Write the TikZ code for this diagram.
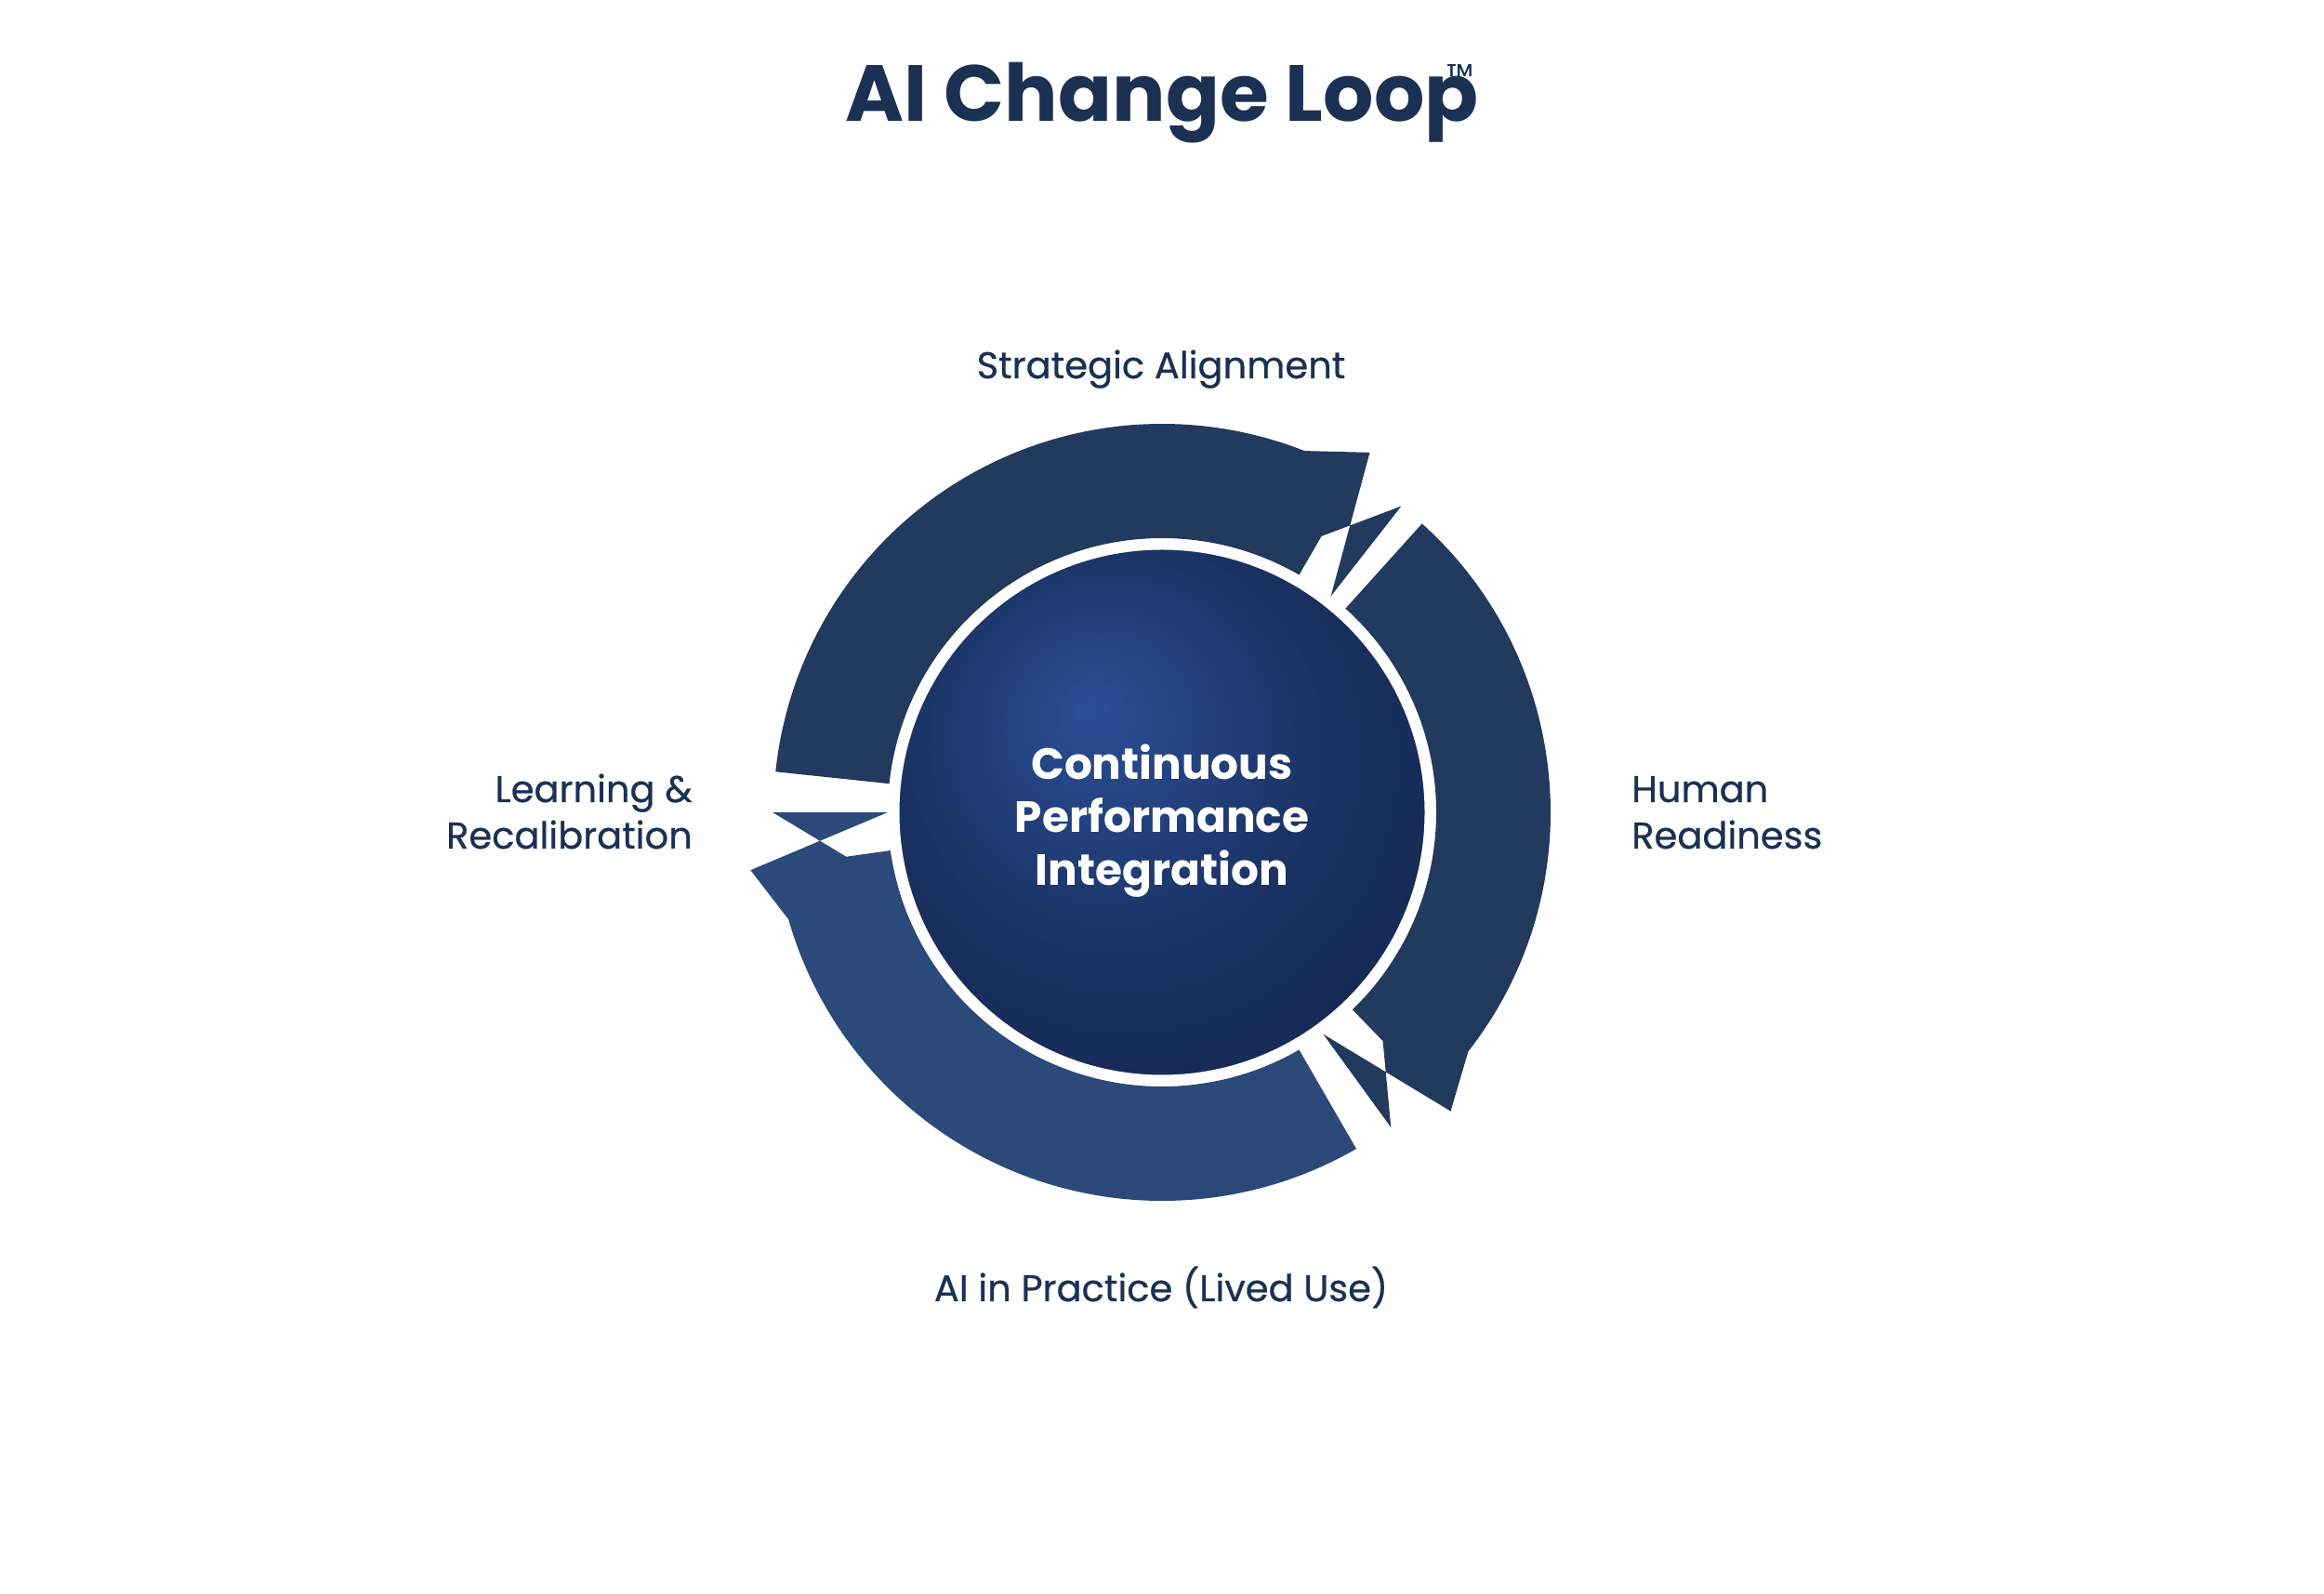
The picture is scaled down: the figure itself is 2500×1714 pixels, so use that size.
\documentclass[tikz,border=0pt]{standalone}
\usepackage{fontspec}
\setmainfont{Poppins}
\newfontfamily\popmed{Poppins}[FakeBold=0.6]
\usetikzlibrary{calc}
\definecolor{segdark}{HTML}{213A5E}
\definecolor{seglight}{HTML}{2B4A79}
\definecolor{navytext}{HTML}{1B3153}
\definecolor{disclight}{HTML}{2B4F96}
\definecolor{discmid}{HTML}{1A3263}
\definecolor{discdark}{HTML}{0E1A38}
\pgfdeclareradialshading{discshade}{\pgfpoint{-7bp}{10bp}}{color(0bp)=(disclight); color(20bp)=(discmid); color(52bp)=(discdark)}
\tikzset{
  label/.style={text=navytext, inner sep=0pt, font=\popmed\fontsize{40}{48}\selectfont},
  centertext/.style={text=white, inner sep=0pt, anchor=base, font=\fontsize{47}{54}\selectfont\bfseries},
}
\begin{document}
\begin{tikzpicture}[x=1pt,y=1pt]
\useasboundingbox (0,0) rectangle (2500,1714);
\fill[white] (0,0) rectangle (2500,1714);
\coordinate (c) at (1250,840);
% ring segments
\begin{scope}[shift={(c)}]
\fill[segdark] (174:418) arc[start angle=174,end angle=68.5,radius=418]
  -- (60:447) -- (52:295) -- (52:418) -- (60:343) -- (60:295)
  arc[start angle=60,end angle=174,radius=295] -- cycle;
\fill[segdark] (48:418) arc[start angle=48,end angle=-38,radius=418]
  -- (-46:447) -- (-54:295) -- (-54:419) -- (-46:342) -- (-46:295)
  arc[start angle=-46,end angle=48,radius=295] -- cycle;
\fill[seglight] (-60:418) arc[start angle=-60,end angle=-164,radius=418]
  -- (-172:447) -- (-180:295) -- (-180:419) -- (-172:343) -- (-172:295)
  arc[start angle=-172,end angle=-60,radius=295] -- cycle;
\end{scope}
% centre disc
\node[circle, minimum size=568pt, inner sep=0pt, shading=discshade, draw=white, line width=3pt] (disc) at (c) {};
\node[centertext] (t1) at (1250,875) {Continuous};
\node[centertext] (t2) at (1250,818) {Performance};
\node[centertext] (t3) at (1250,761) {Integration};
% labels
\node[label, anchor=base] (sa) at (1249,1307) {Strategic Alignment};
\node[label, anchor=base east] (lr1) at (745,851) {Learning \&};
\node[label, anchor=base east] (lr2) at (745,801) {Recalibration};
\node[label, anchor=base west] (hr1) at (1755,851) {Human};
\node[label, anchor=base west] (hr2) at (1755,801) {Readiness};
\node[label, anchor=base] (ap) at (1249,314) {AI in Practice (Lived Use)};
% title
\node[text=navytext, inner sep=0pt, anchor=base, font=\fontsize{85.5}{96}\selectfont\bfseries] (title) at (1250,1583) {AI Change Loop};
\node[text=navytext, inner sep=0pt, font=\fontsize{37}{40}\selectfont] (tm) at (1571,1632) {™};
\end{tikzpicture}
\end{document}
